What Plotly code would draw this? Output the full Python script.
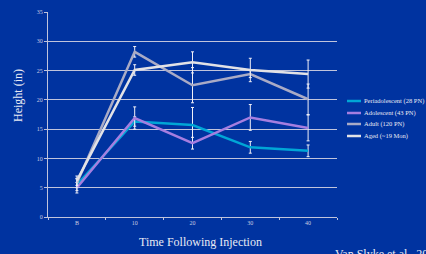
import plotly.graph_objects as go

categories = ["B", "10", "20", "30", "40"]
peri = [5.5, 16.3, 15.7, 11.9, 11.3]
peri_err = [1.0, 0.8, 3.0, 1.0, 1.0]
adol = [5.0, 16.9, 12.6, 17.0, 15.2]
adol_err = [0.9, 1.9, 1.0, 2.2, 2.2]
adult = [5.8, 28.2, 22.5, 24.4, 20.1]
adult_err = [0.8, 0.9, 3.0, 0.6, 2.6]
aged = [6.2, 25.1, 26.4, 25.1, 24.4]
aged_err = [0.8, 0.9, 1.8, 2.0, 2.4]

names = ["Periadolescent (28 PN)", "Adolescent (43 PN)", "Adult (120 PN)", "Aged (~19 Mon)"]
colors = ["#00a6d6", "#a57ee0", "#a9abc6", "#e2e2e6"]
series = [peri, adol, adult, aged]
errs = [peri_err, adol_err, adult_err, aged_err]

fig = go.Figure()
for nm, col, ys, er in zip(names, colors, series, errs):
    fig.add_trace(go.Scatter(
        x=categories, y=ys, name=nm, mode="lines",
        line=dict(color=col, width=2.5),
        error_y=dict(type="data", array=er, visible=True, color="#f0f0f8", thickness=1, width=1.5),
    ))

serif = "Liberation Serif, Times New Roman, serif"
L, R, T, B = 48, 89, 12, 37
W, H = 426, 254
pw = W - L - R
ph = H - T - B


def px(x):
    return (x - L) / pw


def py(y):
    return (H - B - y) / ph


annotations = [
    dict(text="Height (in)", x=px(18), y=py(96), xref="paper", yref="paper", showarrow=False,
         xanchor="center", yanchor="middle",
         textangle=-90, font=dict(size=12, color="#e8eaf4", family=serif)),
    dict(text="Time Following Injection", x=px(200), y=py(242), xref="paper", yref="paper",
         showarrow=False, xanchor="center", yanchor="middle",
         font=dict(size=12, color="#e8eaf4", family=serif)),
    dict(text="Van Slyke et al., 2005", x=px(333), y=py(254), xref="paper", yref="paper",
         showarrow=False, xanchor="left", yanchor="middle",
         font=dict(size=12, color="#e8eaf4", family=serif)),
]
shapes = []
legend_y = [101, 113, 124, 136]
for nm, col, ly in zip(names, colors, legend_y):
    shapes.append(dict(type="line", xref="paper", yref="paper",
                       x0=px(347), x1=px(361), y0=py(ly), y1=py(ly),
                       line=dict(color=col, width=2.5)))
    annotations.append(dict(text=nm, x=px(362), y=py(ly), xref="paper", yref="paper",
                            showarrow=False, xanchor="left", yanchor="middle",
                            font=dict(size=6.5, color="#e8eaf4", family=serif)))

fig.update_layout(
    width=W, height=H,
    paper_bgcolor="#0033a0", plot_bgcolor="#0033a0",
    margin=dict(l=L, r=R, t=T, b=B, autoexpand=False),
    font=dict(family=serif, color="#c8cce0", size=6),
    showlegend=False,
    xaxis=dict(type="category", range=[-0.5, 4.5], showgrid=False,
               tickson="boundaries", ticks="outside", ticklen=2, tickcolor="#c0c4dc",
               showline=True, linecolor="#c0c4dc", linewidth=1,
               tickfont=dict(size=6, color="#c8cce0", family=serif), zeroline=False),
    yaxis=dict(range=[0, 35], dtick=5, showgrid=True, gridcolor="#c0c4dc", gridwidth=1.3,
               showline=True, linecolor="#c0c4dc", linewidth=1.3,
               ticks="outside", ticklen=3, tickcolor="#c0c4dc",
               tickfont=dict(size=6, color="#c8cce0", family=serif), zeroline=False),
    annotations=annotations,
    shapes=shapes,
)

fig.write_html("out.html", config={"displayModeBar": False},
               post_script="document.body.style.margin='0';document.body.style.overflow='hidden';")
